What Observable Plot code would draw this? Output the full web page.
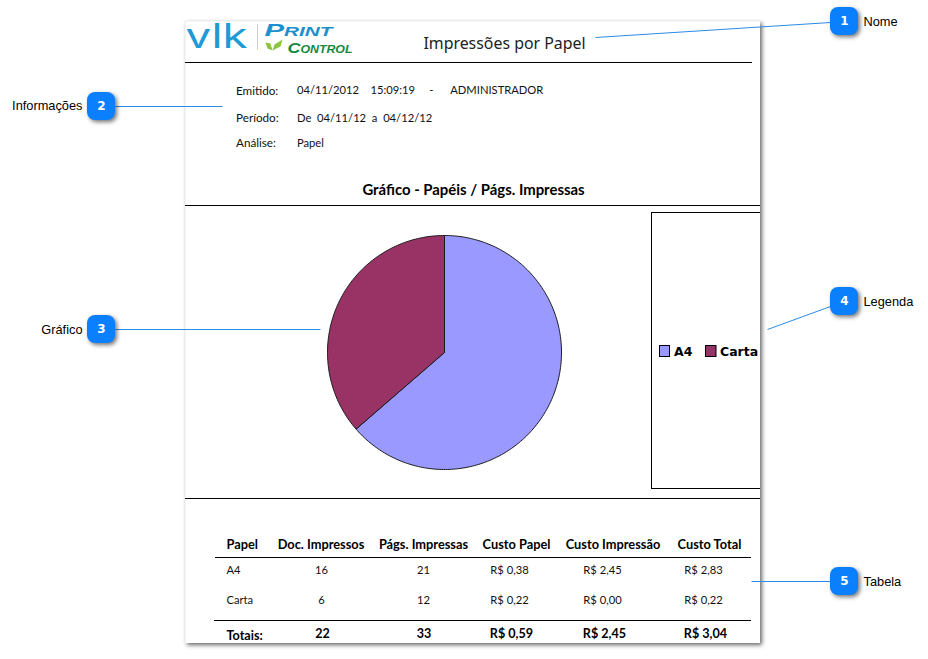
<!DOCTYPE html>
<html><head><meta charset="utf-8">
<script src="https://cdn.jsdelivr.net/npm/d3@7"></script>
<script src="https://cdn.jsdelivr.net/npm/@observablehq/plot@0.6"></script>
<style>html,body{margin:0;padding:0;background:#fff}svg{display:block}</style>
</head><body><div id="chart"></div>
<script>
// ---- chart values ----
const papers = ["A4", "Carta"];
const docs = ["16", "6"];
const pages = [21, 12];
const paperCost = ["R$ 0,38", "R$ 0,22"];
const printCost = ["R$ 2,45", "R$ 0,00"];
const totalCost = ["R$ 2,83", "R$ 0,22"];
const headers = ["Papel", "Doc. Impressos", "Págs. Impressas", "Custo Papel", "Custo Impressão", "Custo Total"];
const totals = ["Totais:", "22", "33", "R$ 0,59", "R$ 2,45", "R$ 3,04"];
const colors = ["#9999ff", "#993366"];
const infoLabels = ["Emitido:", "Período:", "Análise:"];
const infoValues = ["04/11/2012    15:09:19     -      ADMINISTRADOR", "De  04/11/12  a  04/12/12", "Papel"];
const calloutNames = ["Nome", "Informações", "Gráfico", "Legenda", "Tabela"];

// ---- layout ----
const report = "Lato, 'Open Sans', sans-serif";
const ui = "'Liberation Sans', sans-serif";
const shadow = f => (i, s, v, d, c, next) => { const g = next(i, s, v, d, c); g.style.filter = f; return g; };
const fitWidth = w => (i, s, v, d, c, next) => { const g = next(i, s, v, d, c); g.querySelectorAll("text").forEach(t => { t.setAttribute("textLength", w); t.setAttribute("lengthAdjust", "spacingAndGlyphs"); }); return g; };
const txt = (t, x, y, o = {}) => Plot.text([t], {x, y, fontFamily: report, fontSize: 12, fill: "#111", ...o});

// pie outline derived from the page counts
const cx = 444, cy = 352, r = 117;
const arcs = d3.pie().sort(null)(pages);
const pieRows = arcs.flatMap((a, k) => {
  const n = Math.max(2, Math.ceil((a.endAngle - a.startAngle) * 60));
  const pts = [{name: papers[k], a: null}];
  for (let j = 0; j <= n; ++j) pts.push({name: papers[k], a: a.startAngle + (a.endAngle - a.startAngle) * j / n});
  pts.push({name: papers[k], a: null});
  return pts;
});
const px = d => d.a === null ? cx : cx + r * Math.sin(d.a);
const py = d => d.a === null ? cy : cy - r * Math.cos(d.a);

// table
const headX = [226, 320.5, 423, 516, 612.5, 709];
const valueX = [226, 321, 423, 509, 602, 703];
const totalX = [226, 322, 423.5, 511, 604, 705];
const rowsY = [570, 600];
const columns = [papers, docs, pages.map(String), paperCost, printCost, totalCost];
const tableMarks = [];
headers.forEach((h, c) => {
  const anchor = c === 0 ? "start" : "middle";
  tableMarks.push(txt(h, headX[c], 544, {fontWeight: 700, fontSize: 12.8, textAnchor: anchor, fill: "#000"}));
  columns[c].forEach((v, i) => tableMarks.push(txt(v, valueX[c], rowsY[i], {fontSize: 11.2, textAnchor: anchor})));
  tableMarks.push(txt(totals[c], totalX[c], c === 0 ? 635 : 633, {fontWeight: 700, fontSize: 12.6, textAnchor: anchor, fill: "#000"}));
});

// callouts
const badges = [[844, 21], [101, 106], [101, 329], [844, 301], [844, 581]];
const leaders = [[595, 37, 830, 22], [115, 106, 222, 106], [115, 329, 320, 329], [830, 306, 767, 329], [830, 581, 751, 581]];
const calloutMarks = [
  Plot.link(leaders, {x1: d => d[0], y1: d => d[1], x2: d => d[2], y2: d => d[3], stroke: "#2a8be8", strokeWidth: 1}),
  Plot.rect(badges, {x1: d => d[0] - 14, x2: d => d[0] + 14, y1: d => d[1] - 14, y2: d => d[1] + 14, rx: 8, fill: "#0a80ff",
    render: shadow("drop-shadow(2px 2px 2px rgba(0,0,0,.55))")}),
  ...badges.map((b, i) => txt(String(i + 1), b[0], b[1], {fill: "#fff", fontFamily: "'DejaVu Sans', sans-serif", fontWeight: 700, fontSize: 12, textAnchor: "middle"})),
  ...calloutNames.map((n, i) => {
    const left = badges[i][0] < 400;
    return txt(n, left ? 82 : 863, badges[i][1] + (i === 1 ? -1 : 0.5), {fontFamily: ui, fontSize: 12.8, fill: "#000", textAnchor: left ? "end" : "start"});
  })
];

const chart = Plot.plot({
  width: 928, height: 659, margin: 0,
  x: {type: "linear", domain: [0, 928], range: [0, 928], axis: null},
  y: {type: "linear", domain: [0, 659], range: [0, 659], axis: null},
  color: {domain: papers, range: colors},
  style: {background: "#fff"},
  marks: [
    // report page
    Plot.rect([0], {x1: 185, x2: 760, y1: 21, y2: 643, fill: "#fff",
      render: shadow("drop-shadow(2px 2px 2px rgba(0,0,0,.6))")}),
    Plot.ruleX([184.5], {y1: 21, y2: 643, stroke: "#ececec"}),
    Plot.ruleY([20.5], {x1: 185, x2: 760, stroke: "#ececec"}),
    // logo
    txt("vlk", 185, 37, {fontFamily: "Inter, sans-serif", fontWeight: 400, fontSize: 34, fill: "#1e9ad6", textAnchor: "start", render: fitWidth(62)}),
    Plot.ruleX([257], {y1: 24, y2: 50, stroke: "#cfdc9c"}),
    txt("Print", 264, 29.6, {fontFamily: "'Liberation Sans'", fontStyle: "italic", fontWeight: 700, fontVariant: "small-caps", fontSize: 17, fill: "#1e8fcf", textAnchor: "start", render: fitWidth(68)}),
    txt("Control", 287, 47.4, {fontFamily: "'Liberation Sans'", fontStyle: "italic", fontWeight: 700, fontVariant: "small-caps", fontSize: 14.5, fill: "#158a3e", textAnchor: "start", render: fitWidth(65)}),
    Plot.line([[265, 42, 0], [270, 43, 0], [272, 50, 0], [267, 48, 0], [265, 42, 0], [272, 50, 1], [274, 44, 1], [282, 39, 1], [280, 46, 1], [272, 50, 1]],
      {x: d => d[0], y: d => d[1], z: d => d[2], fill: "#8cc63f", stroke: "none"}),
    // heading
    txt("Impressões por Papel", 504, 43, {fontFamily: "'Noto Sans', sans-serif", fontSize: 15.9, textAnchor: "middle", fill: "#222"}),
    Plot.ruleY([62], {x1: 185, x2: 752, stroke: "#000"}),
    // information block
    ...infoLabels.map((t, i) => txt(t, 235.5, [91, 118, 143][i], {fontSize: 11.7, textAnchor: "start"})),
    ...infoValues.map((t, i) => txt(t, 296.5, [90, 118, 143][i], {fontSize: 11.2, textAnchor: "start", style: {whiteSpace: "pre"}})),
    txt("Gráfico - Papéis / Págs. Impressas", 473, 190, {fontWeight: 700, fontSize: 14.9, textAnchor: "middle", fill: "#000"}),
    Plot.ruleY([205, 498], {x1: 185, x2: 760, stroke: "#000"}),
    // pie
    Plot.line(pieRows, {x: px, y: py, z: "name", fill: "name", stroke: "#1a1a1a", strokeWidth: 1, curve: "linear"}),
    // legend box
    Plot.ruleX([651], {y1: 212, y2: 488, stroke: "#000"}),
    Plot.ruleY([212, 488], {x1: 651, x2: 760, stroke: "#000"}),
    Plot.rect(papers, {x1: d => d === "A4" ? 659.5 : 705.5, x2: d => d === "A4" ? 669.5 : 716, y1: 345.5, y2: 356.5, fill: d => d, stroke: "#000"}),
    ...papers.map((p, i) => txt(p, [673.5, 719.5][i], 351, {fontWeight: 900, fontFamily: "'DejaVu Sans', sans-serif", fontSize: 12.5, textAnchor: "start", fill: "#000"})),
    // table
    Plot.ruleY([557], {x1: 215, x2: 751, stroke: "#000"}),
    Plot.ruleY([620], {x1: 214, x2: 751, stroke: "#000"}),
    ...tableMarks,
    // callouts
    ...calloutMarks
  ]
});
document.getElementById("chart").append(chart);
</script></body></html>
